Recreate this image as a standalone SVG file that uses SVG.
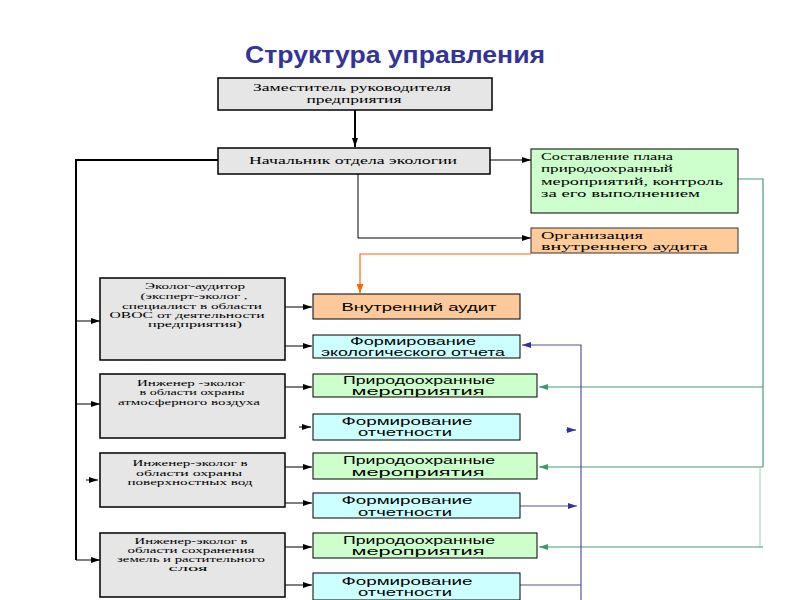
<svg xmlns="http://www.w3.org/2000/svg" width="800" height="600" viewBox="0 0 800 600">
<defs>
<style>
.title{font-family:"Liberation Sans",Arial,sans-serif;font-weight:bold;font-size:23px;fill:#333399}
.g{fill:#e6e6e6;stroke:#000;stroke-width:1.5}
.grn{fill:#ccffcc;stroke:#000;stroke-width:1}
.cyan{fill:#ccffff;stroke:#000;stroke-width:1}
.peach{fill:#fcc99b;stroke:#000;stroke-width:1}
.peach2{fill:#ffcc99;stroke:#333;stroke-width:1}
.ts{font-family:"Liberation Serif","Times New Roman",serif;font-size:10.5px;fill:#000}
.tss{font-family:"Liberation Serif","Times New Roman",serif;font-size:8.6px;fill:#000}
.tsa{font-family:"Liberation Sans",Arial,sans-serif;font-size:10.5px;fill:#000}
.tr{font-family:"Liberation Serif","Times New Roman",serif;font-size:11px;fill:#000}
.tro{font-family:"Liberation Serif","Times New Roman",serif;font-size:10px;fill:#000}
.blk{stroke:#000;stroke-width:1;fill:none}
.blk2{stroke:#000;stroke-width:2;fill:none}
.org{stroke:#ff6600;stroke-width:1.2;fill:none}
.gr{stroke:#4a9a7a;stroke-width:1.2;fill:none}
.gr2{stroke:#9ad0b0;stroke-width:1;fill:none}
.bl{stroke:#555599;stroke-width:1.2;fill:none}
</style>
<marker id="ab" markerUnits="userSpaceOnUse" markerWidth="9" markerHeight="6" refX="9" refY="3" orient="auto"><path d="M0,0 L9,3 L0,6 z" fill="#000"/></marker>
<marker id="ao" markerUnits="userSpaceOnUse" markerWidth="9" markerHeight="7" refX="9" refY="3.5" orient="auto"><path d="M0,0 L9,3.5 L0,7 z" fill="#ff6600"/></marker>
<marker id="ag" markerUnits="userSpaceOnUse" markerWidth="9" markerHeight="6" refX="9" refY="3" orient="auto"><path d="M0,0 L9,3 L0,6 z" fill="#3a9a6a"/></marker>
<marker id="abl" markerUnits="userSpaceOnUse" markerWidth="9" markerHeight="6" refX="9" refY="3" orient="auto"><path d="M0,0 L9,3 L0,6 z" fill="#333399"/></marker>
</defs>
<rect width="800" height="600" fill="#fff"/>
<text class="title" x="395" y="63" text-anchor="middle" textLength="300" lengthAdjust="spacingAndGlyphs">Структура управления</text>

<g id="connectors">
<line class="blk2" x1="355" y1="110" x2="355" y2="147" marker-end="url(#ab)"/>
<polyline class="blk2" points="218,160 76,160 76,560"/>
<line class="blk" x1="76" y1="321" x2="100" y2="321" marker-end="url(#ab)"/>
<line class="blk" x1="76" y1="404" x2="100" y2="404" marker-end="url(#ab)"/>
<line class="blk" x1="86" y1="480" x2="98" y2="480" marker-end="url(#ab)"/>
<line class="blk" x1="76" y1="560" x2="100" y2="560" marker-end="url(#ab)"/>
<line class="blk" x1="490" y1="160" x2="531" y2="160" marker-end="url(#ab)"/>
<polyline class="blk" points="358,174 358,238 531,238" marker-end="url(#ab)"/>
<polyline class="org" points="531,254 360,254 360,293" marker-end="url(#ao)"/>
<line class="blk" x1="285" y1="307" x2="312" y2="307" marker-end="url(#ab)"/>
<line class="blk" x1="285" y1="346" x2="312" y2="346" marker-end="url(#ab)"/>
<line class="blk" x1="285" y1="387" x2="312" y2="387" marker-end="url(#ab)"/>
<line class="blk" x1="299" y1="427" x2="311" y2="427" marker-end="url(#ab)"/>
<line class="blk" x1="285" y1="467" x2="312" y2="467" marker-end="url(#ab)"/>
<line class="blk" x1="285" y1="503" x2="312" y2="503" marker-end="url(#ab)"/>
<line class="blk" x1="285" y1="547" x2="312" y2="547" marker-end="url(#ab)"/>
<line class="blk" x1="285" y1="585" x2="312" y2="585" marker-end="url(#ab)"/>
<polyline class="gr" points="738,179 763,179 763,467"/>
<line class="gr" x1="763" y1="387" x2="539" y2="387" marker-end="url(#ag)"/>
<line class="gr" x1="763" y1="467" x2="539" y2="467" marker-end="url(#ag)"/>
<polyline class="gr2" points="763,467 760,467 760,547"/>
<line class="gr" x1="763" y1="547" x2="539" y2="547" marker-end="url(#ag)"/>
<polyline class="bl" points="581,600 581,345 522,345" marker-end="url(#abl)"/>
<line class="bl" x1="566" y1="430" x2="576" y2="430" marker-end="url(#abl)"/>
<line class="bl" x1="520" y1="506" x2="577" y2="506" marker-end="url(#abl)"/>
<line class="bl" x1="520" y1="585" x2="581" y2="585"/>
</g>

<g id="n-deputy">
<rect class="g" x="218" y="78" width="274" height="32"/>
<text class="ts" x="352" y="91" text-anchor="middle" textLength="198" lengthAdjust="spacingAndGlyphs">Заместитель руководителя</text>
<text class="ts" x="354" y="103" text-anchor="middle" textLength="95" lengthAdjust="spacingAndGlyphs">предприятия</text>
</g>
<g id="n-head">
<rect class="g" x="218" y="148" width="272" height="26"/>
<text class="ts" x="353" y="164" text-anchor="middle" textLength="208" lengthAdjust="spacingAndGlyphs">Начальник отдела экологии</text>
</g>
<g id="n-plan">
<rect class="grn" x="531" y="149" width="207" height="64"/>
<text class="tr" x="541" y="160" textLength="132" lengthAdjust="spacingAndGlyphs">Составление плана</text>
<text class="tr" x="541" y="172" textLength="132" lengthAdjust="spacingAndGlyphs">природоохранный</text>
<text class="tr" x="541" y="185" textLength="182" lengthAdjust="spacingAndGlyphs">мероприятий, контроль</text>
<text class="tr" x="541" y="197" textLength="159" lengthAdjust="spacingAndGlyphs">за его выполнением</text>
</g>
<g id="n-org-audit">
<rect class="peach2" x="531" y="228" width="207" height="25"/>
<text class="tro" x="541" y="239" textLength="102" lengthAdjust="spacingAndGlyphs">Организация</text>
<text class="tro" x="541" y="250" textLength="167" lengthAdjust="spacingAndGlyphs">внутреннего аудита</text>
</g>
<g id="n-auditor">
<rect class="g" x="100" y="278" width="185" height="82"/>
<text class="tss" x="195" y="289" text-anchor="middle" textLength="100" lengthAdjust="spacingAndGlyphs">Эколог-аудитор</text>
<text class="tss" x="194" y="299" text-anchor="middle" textLength="107" lengthAdjust="spacingAndGlyphs">(эксперт-эколог ,</text>
<text class="tss" x="192" y="309" text-anchor="middle" textLength="140" lengthAdjust="spacingAndGlyphs">специалист в области</text>
<text class="tss" x="187" y="318" text-anchor="middle" textLength="155" lengthAdjust="spacingAndGlyphs">ОВОС от деятельности</text>
<text class="tss" x="195" y="327" text-anchor="middle" textLength="94" lengthAdjust="spacingAndGlyphs">предприятия)</text>
</g>
<g id="n-int-audit">
<rect class="peach" x="313" y="294" width="207" height="25"/>
<text class="tsa" x="419" y="311" text-anchor="middle" textLength="155" lengthAdjust="spacingAndGlyphs">Внутренний аудит</text>
</g>
<g id="n-eco-report">
<rect class="cyan" x="313" y="335" width="207" height="23"/>
<text class="tsa" x="413" y="345" text-anchor="middle" textLength="126" lengthAdjust="spacingAndGlyphs">Формирование</text>
<text class="tsa" x="413" y="356" text-anchor="middle" textLength="184" lengthAdjust="spacingAndGlyphs">экологического отчета</text>
</g>
<g id="n-air">
<rect class="g" x="100" y="374" width="185" height="64"/>
<text class="tss" x="191" y="386" text-anchor="middle" textLength="108" lengthAdjust="spacingAndGlyphs">Инженер -эколог</text>
<text class="tss" x="192" y="395" text-anchor="middle" textLength="105" lengthAdjust="spacingAndGlyphs">в области охраны</text>
<text class="tss" x="189" y="405" text-anchor="middle" textLength="142" lengthAdjust="spacingAndGlyphs">атмосферного воздуха</text>
</g>
<g id="n-measures1">
<rect class="grn" x="313" y="374" width="224" height="23"/>
<text class="tsa" x="419" y="384" text-anchor="middle" textLength="152" lengthAdjust="spacingAndGlyphs">Природоохранные</text>
<text class="tsa" x="418" y="395" text-anchor="middle" textLength="133" lengthAdjust="spacingAndGlyphs">мероприятия</text>
</g>
<g id="n-report1">
<rect class="cyan" x="313" y="414" width="207" height="26"/>
<text class="tsa" x="407" y="425" text-anchor="middle" textLength="131" lengthAdjust="spacingAndGlyphs">Формирование</text>
<text class="tsa" x="405" y="436" text-anchor="middle" textLength="94" lengthAdjust="spacingAndGlyphs">отчетности</text>
</g>
<g id="n-water">
<rect class="g" x="100" y="453" width="185" height="54"/>
<text class="tss" x="190" y="466" text-anchor="middle" textLength="115" lengthAdjust="spacingAndGlyphs">Инженер-эколог в</text>
<text class="tss" x="189" y="476" text-anchor="middle" textLength="106" lengthAdjust="spacingAndGlyphs">области охраны</text>
<text class="tss" x="190" y="485" text-anchor="middle" textLength="125" lengthAdjust="spacingAndGlyphs">поверхностных вод</text>
</g>
<g id="n-measures2">
<rect class="grn" x="313" y="453" width="224" height="26"/>
<text class="tsa" x="419" y="464" text-anchor="middle" textLength="152" lengthAdjust="spacingAndGlyphs">Природоохранные</text>
<text class="tsa" x="418" y="476" text-anchor="middle" textLength="133" lengthAdjust="spacingAndGlyphs">мероприятия</text>
</g>
<g id="n-report2">
<rect class="cyan" x="313" y="493" width="207" height="25"/>
<text class="tsa" x="407" y="504" text-anchor="middle" textLength="131" lengthAdjust="spacingAndGlyphs">Формирование</text>
<text class="tsa" x="405" y="516" text-anchor="middle" textLength="94" lengthAdjust="spacingAndGlyphs">отчетности</text>
</g>
<g id="n-land">
<rect class="g" x="100" y="533" width="185" height="64"/>
<text class="tss" x="191" y="544" text-anchor="middle" textLength="113" lengthAdjust="spacingAndGlyphs">Инженер-эколог в</text>
<text class="tss" x="191" y="553" text-anchor="middle" textLength="127" lengthAdjust="spacingAndGlyphs">области сохранения</text>
<text class="tss" x="191" y="562" text-anchor="middle" textLength="148" lengthAdjust="spacingAndGlyphs">земель и растительного</text>
<text class="tss" x="188" y="571" text-anchor="middle" textLength="39" lengthAdjust="spacingAndGlyphs">слоя</text>
</g>
<g id="n-measures3">
<rect class="grn" x="313" y="533" width="224" height="25"/>
<text class="tsa" x="419" y="544" text-anchor="middle" textLength="152" lengthAdjust="spacingAndGlyphs">Природоохранные</text>
<text class="tsa" x="418" y="555" text-anchor="middle" textLength="133" lengthAdjust="spacingAndGlyphs">мероприятия</text>
</g>
<g id="n-report3">
<rect class="cyan" x="313" y="573" width="207" height="27"/>
<text class="tsa" x="407" y="585" text-anchor="middle" textLength="131" lengthAdjust="spacingAndGlyphs">Формирование</text>
<text class="tsa" x="405" y="596" text-anchor="middle" textLength="94" lengthAdjust="spacingAndGlyphs">отчетности</text>
</g>
</svg>
